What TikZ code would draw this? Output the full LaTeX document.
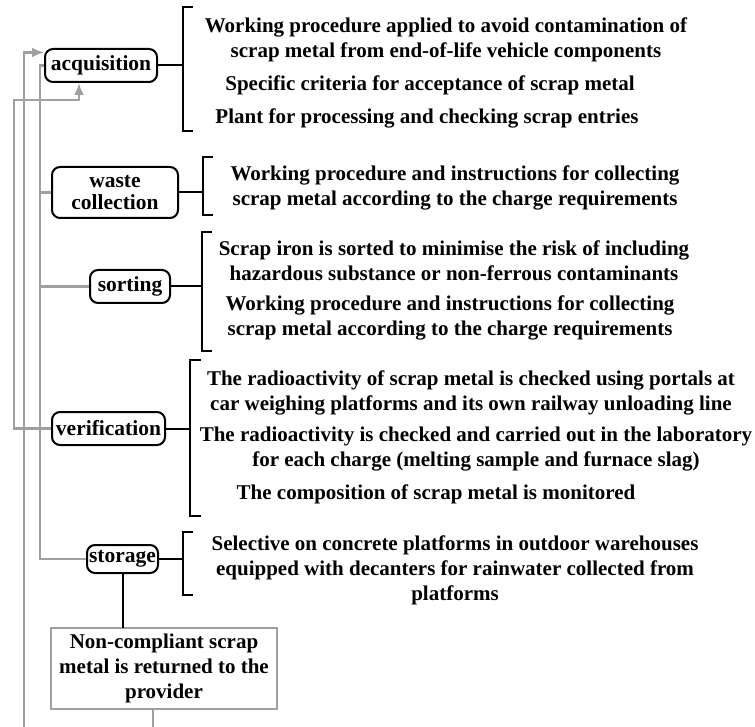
\documentclass[tikz,border=0pt]{standalone}
\usepackage{fontspec}
\setmainfont{Liberation Serif}
\usetikzlibrary{arrows.meta}

\begin{document}
\begin{tikzpicture}[x=1pt,y=-1pt,>={Latex[length=12pt,width=10pt]},
  main node/.style={rectangle,rounded corners=8pt,draw,line width=2pt,inner sep=1pt,align=center,
    font=\bfseries\fontsize{21.5}{22}\selectfont},
  item/.style={align=center,inner sep=0pt,font=\bfseries\fontsize{21}{25}\selectfont}]

  \tikzstyle{feedback} = [draw,line width=2.4pt,gray!75]
  \tikzstyle{bracket} = [draw,line width=2pt,black,line cap=rect]

  \path[use as bounding box,clip] (0,0) rectangle (755,727);

  \node[main node,minimum width=112pt,minimum height=33pt] (1) at (101,65.5) {acquisition};
  \node[main node,minimum width=126pt,minimum height=51pt] (2) at (115,192.5) {waste\\collection};
  \node[main node,minimum width=80pt,minimum height=33pt] (3) at (130,286.5) {sorting};
  \node[main node,minimum width=113pt,minimum height=33pt] (4) at (108.5,428.5) {verification};
  \node[main node,minimum width=71pt,minimum height=28pt,inner sep=0pt] (5) at (122.5,559) {storage};
  \node[item,draw=gray!75,line width=2.4pt,minimum width=226pt,minimum height=81pt] (6) at (164,668.5)
    {Non-compliant scrap\\metal is returned to the\\provider};

  % acquisition
  \node[item] (1a) at (446,40) {Working procedure applied to avoid contamination of\\scrap metal from end-of-life vehicle components};
  \node[item] (1b) at (430,85) {Specific criteria for acceptance of scrap metal};
  \node[item] (1c) at (427,118) {Plant for processing and checking scrap entries};
  % waste collection
  \node[item] (2a) at (455,188) {Working procedure and instructions for collecting\\scrap metal according to the charge requirements};
  % sorting
  \node[item] (3a) at (454,261) {Scrap iron is sorted to minimise the risk of including\\hazardous substance or non-ferrous contaminants};
  \node[item] (3b) at (450,318) {Working procedure and instructions for collecting\\scrap metal according to the charge requirements};
  % verification
  \node[item] (4a) at (471,393) {The radioactivity of scrap metal is checked using portals at\\car weighing platforms and its own railway unloading line};
  \node[item] (4b) at (476,449) {The radioactivity is checked and carried out in the laboratory\\for each charge (melting sample and furnace slag)};
  \node[item] (4c) at (436,494) {The composition of scrap metal is monitored};
  % storage
  \node[item] (5a) at (455,570) {Selective on concrete platforms in outdoor warehouses\\equipped with decanters for rainwater collected from\\platforms};

  % brackets
  \draw[bracket] (192,7) -| (183,131) -- (192,131);
  \draw[bracket] (212,157) -| (203,215) -- (212,215);
  \draw[bracket] (211,232) -| (202,351) -- (211,351);
  \draw[bracket] (200,360) -| (190,516) -- (200,516);
  \draw[bracket] (192,532) -| (183,595) -- (192,595);

  \coordinate (b1) at (183,0);
  \coordinate (b2) at (203,0);
  \coordinate (b3) at (202,0);
  \coordinate (b4) at (190,0);
  \coordinate (b5) at (183,0);
  \draw[bracket] (1.east) -- (1.east -| b1);
  \draw[bracket] (2.east) -- (2.east -| b2);
  \draw[bracket] (3.east) -- (3.east -| b3);
  \draw[bracket] (4.east) -- (4.east -| b4);
  \draw[bracket] (5.east) -- (5.east -| b5);
  \draw[bracket] (5.south) -- (5.south |- 6.north); % to non-compliant

  % grey lines on the left
  \coordinate (trunk) at (40,0);
  \draw[feedback] (1.west) -- (1.west -| trunk) |- (5.west);
  \draw[feedback] (2.west) -- (2.west -| trunk);
  \draw[feedback] (3.west) -- (3.west -| trunk);
  \draw[feedback,->] (4.west) -| (14,100) -| ([xshift=-22pt]1.south); % back to acquisition
  \draw[feedback,->] ([xshift=-11pt]6.south) |- (24,740) |- ([yshift=13pt]1.west); % returned
\end{tikzpicture}
\end{document}
